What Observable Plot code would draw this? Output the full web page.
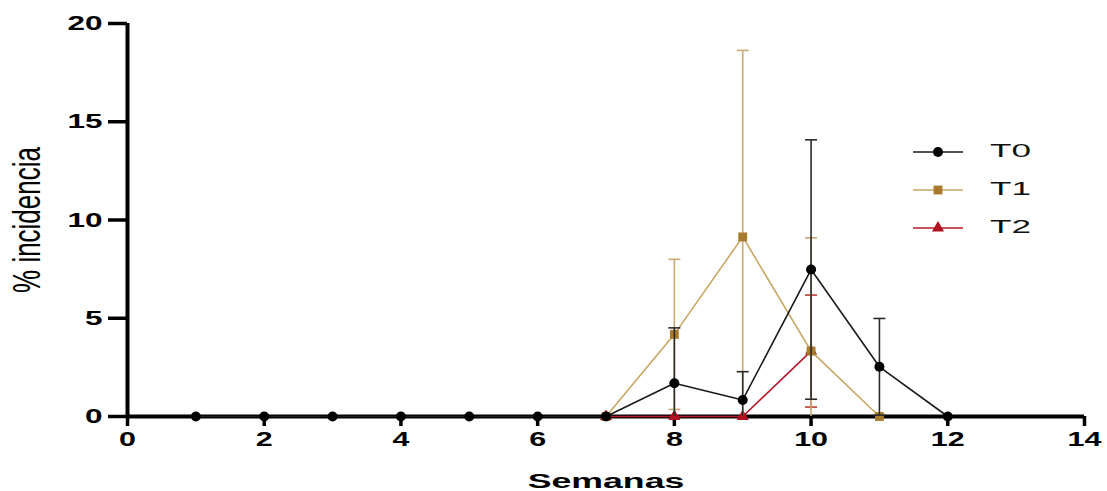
<!DOCTYPE html>
<html><head><meta charset="utf-8">
<script src="https://cdn.jsdelivr.net/npm/d3@7"></script>
<script src="https://cdn.jsdelivr.net/npm/@observablehq/plot@0.6"></script>
<style>
body{margin:0;background:#fff;}
#wrap{position:relative;width:1107px;height:491px;overflow:hidden;}
.item{position:absolute;height:20px;}
.item svg{position:absolute;left:0;top:0;}
.item span{position:absolute;left:80px;top:-3px;font:19px "Liberation Sans",Arial,sans-serif;color:#111;transform:scaleX(1.85);transform-origin:left center;line-height:24px;}
</style></head><body><div id="wrap"><div id="chart"></div><div id="legend"></div></div>
<script>
const weeks = [1,2,3,4,5,6,7,8,9,10,11,12];
const seriesNames = ["T0","T1","T2"];
const t0Values = [0,0,0,0,0,0,0,1.69,0.84,7.48,2.53,0];
const t0Sd     = [0,0,0,0,0,0,0,2.82,1.44,6.6,2.46,0];
const t1Weeks  = [7,8,9,10,11];
const t1Values = [0,4.18,9.14,3.33,0];
const t1Sd     = [0,3.82,9.49,5.76,0];
const t2Weeks  = [7,8,9,10];
const t2Values = [0,0,0,3.33];
const t2Sd     = [0,0,0,2.85];
const xTicks = [0,2,4,6,8,10,12,14];
const yTicks = [0,5,10,15,20];
const xTitle = "Semanas";
const yTitle = "% incidencia";

const lineColor = {T0:"#1a1a1a", T1:"#c9a666", T2:"#b3182b"};
const markColor = {T0:"#000000", T1:"#a87a2c", T2:"#b0101f"};
const barColor  = {T0:"#2a2a2a", T1:"#c8aa72", T2:"#c0392b"};
const markSymbol = {T0:"circle", T1:"square", T2:"triangle"};
const markR = {T0:5, T1:5, T2:4.5};

function rows(name, wk, vals, sds){
  return vals.map((v,i)=>({series:name, week:wk[i], v, sd:sds[i]}));
}
const data = {
  T0: rows("T0", weeks, t0Values, t0Sd),
  T1: rows("T1", t1Weeks, t1Values, t1Sd),
  T2: rows("T2", t2Weeks, t2Values, t2Sd)
};

const capSymbol = {draw(ctx, size){ const r = Math.sqrt(size/Math.PI); ctx.moveTo(-r,0); ctx.lineTo(r,0); }};

function seriesMarks(name){
  const d = data[name];
  const e = d.filter(r=>r.sd>0);
  const caps = e.flatMap(r=>[{week:r.week, y:r.v+r.sd},{week:r.week, y:r.v-r.sd}]);
  return [
    Plot.ruleX(e, {x:"week", y1:r=>Math.max(0,r.v-r.sd), y2:r=>r.v+r.sd, stroke:barColor[name], strokeWidth:1.6}),
    Plot.dot(caps, {x:"week", y:"y", symbol:capSymbol, r:6, stroke:barColor[name], fill:"none", strokeWidth:1.6, clip:true}),
    Plot.line(d, {x:"week", y:"v", stroke:lineColor[name], strokeWidth:1.6}),
    Plot.dot(d, {x:"week", y:"v", symbol:markSymbol[name], r:markR[name], fill:markColor[name], stroke:"none"})
  ];
}

const chart = Plot.plot({
  width:1107, height:491,
  marginLeft:127, marginRight:23, marginTop:23, marginBottom:75,
  style:{fontFamily:"'Liberation Sans', Arial, sans-serif", background:"#fff", color:"#000"},
  x:{domain:[0,14]},
  y:{domain:[0,20]},
  marks:[
    Plot.axisX({ticks:xTicks, tickSize:10, tickPadding:5, fontSize:21, fontWeight:"bold", strokeWidth:3.5, label:null}),
    Plot.axisY({ticks:yTicks, tickSize:19, tickPadding:6, fontSize:21, fontWeight:"bold", strokeWidth:3.5, label:null}),
    Plot.ruleX([0], {strokeWidth:4, stroke:"#000"}),
    Plot.ruleY([0], {strokeWidth:4, stroke:"#000"}),
    Plot.text([xTitle], {text:d=>d, frameAnchor:"bottom", textAnchor:"middle", dy:71, fontSize:21, fontWeight:"bold", fill:"#000"}),
    Plot.text([yTitle], {text:d=>d, frameAnchor:"left", textAnchor:"middle", dx:-100, rotate:-90, fontSize:26, fill:"#000"}),
    ...seriesMarks("T2"),
    ...seriesMarks("T1"),
    ...seriesMarks("T0")
  ]
});
document.getElementById("chart").appendChild(chart);

function stretchText(filter, sx, sy){
  d3.select(chart).selectAll("text").filter(function(){ return filter(this); }).each(function(){
    const t = this.getAttribute("transform") || "";
    this.setAttribute("transform", (t ? t + " " : "") + `scale(${sx},${sy})`);
  });
}
stretchText(el => el.closest('g[aria-label="y-axis tick label"]'), 1.5, 1);
stretchText(el => el.closest('g[aria-label="x-axis tick label"]'), 1.45, 1);
stretchText(el => el.textContent === xTitle, 1.7, 1);
stretchText(el => el.textContent === yTitle, 1, 1.5);

// legend
const legendY = [152, 190, 228];
const legend = document.getElementById("legend");
seriesNames.forEach((name, i) => {
  const item = document.createElement("div");
  item.className = "item";
  item.style.left = "910px";
  item.style.top = (legendY[i] - 10) + "px";
  const svg = d3.create("svg").attr("width", 60).attr("height", 20);
  svg.append("line").attr("x1", 3).attr("x2", 53).attr("y1", 10).attr("y2", 10)
     .attr("stroke", lineColor[name]).attr("stroke-width", 1.6);
  const sym = {circle:d3.symbolCircle, square:d3.symbolSquare, triangle:d3.symbolTriangle}[markSymbol[name]];
  svg.append("path").attr("transform", "translate(28,10)")
     .attr("d", d3.symbol(sym, Math.PI * markR[name] * markR[name])())
     .attr("fill", markColor[name]);
  item.appendChild(svg.node());
  const span = document.createElement("span");
  span.textContent = name;
  item.appendChild(span);
  legend.appendChild(item);
});
</script>
</body></html>
